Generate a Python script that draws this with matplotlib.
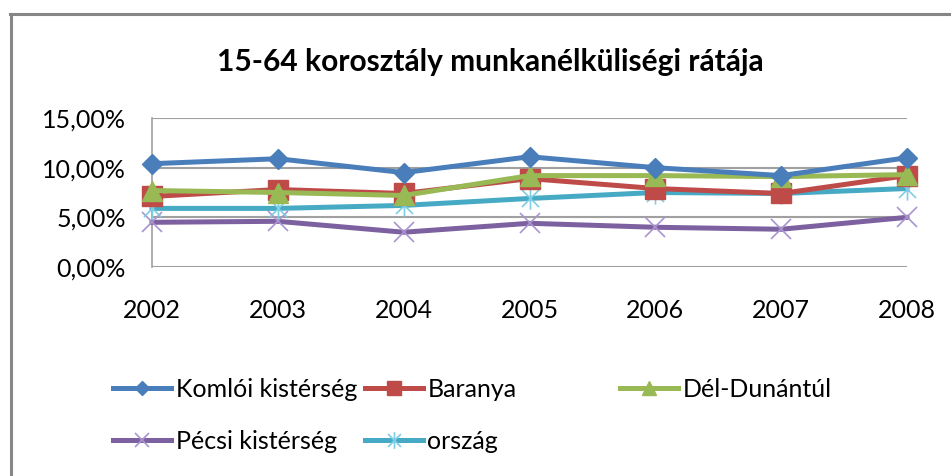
import matplotlib
matplotlib.use("Agg")
import matplotlib.pyplot as plt
from matplotlib.path import Path
from matplotlib.lines import Line2D
from matplotlib.ticker import FuncFormatter

plt.rcParams['font.family'] = ['Lato', 'DejaVu Sans']

# Adatok (munkanélküliségi ráta, %)
years = ['2002', '2003', '2004', '2005', '2006', '2007', '2008']
komloi = [10.4, 10.9, 9.5, 11.1, 10.0, 9.2, 11.0]
baranya = [7.1, 7.8, 7.4, 8.9, 7.9, 7.4, 9.2]
del_dunantul = [7.7, 7.5, 7.2, 9.2, 9.2, 9.1, 9.3]
pecsi = [4.5, 4.6, 3.5, 4.4, 4.0, 3.8, 5.0]
orszag = [5.9, 5.9, 6.2, 6.9, 7.5, 7.4, 7.9]

# csillag jelölő (x + függőleges vonal)
star_path = Path([(-1, -1), (1, 1), (-1, 1), (1, -1), (0, -1.3), (0, 1.3)],
                 [Path.MOVETO, Path.LINETO, Path.MOVETO, Path.LINETO, Path.MOVETO, Path.LINETO])

fig = plt.figure(figsize=(9.51, 4.76), dpi=100)
ax = fig.add_axes([152 / 951, 1 - 267 / 476, (907 - 152) / 951, (267 - 118) / 476])

x = list(range(len(years)))
lw = 3.6
l_komloi, = ax.plot(x, [v / 100 for v in komloi], color='#4A7EBB', lw=lw, marker='D', ms=10,
                    label='Komlói kistérség', clip_on=False, zorder=5)
l_baranya, = ax.plot(x, [v / 100 for v in baranya], color='#BE4B48', lw=lw, marker='s', ms=14,
                     label='Baranya', clip_on=False, zorder=4)
l_del, = ax.plot(x, [v / 100 for v in del_dunantul], color='#98B954', lw=lw, marker='^', ms=14,
                 label='Dél-Dunántúl', clip_on=False, zorder=4.5)
l_pecsi, = ax.plot(x, [v / 100 for v in pecsi], color='#7D60A0', lw=lw, marker='x', ms=14,
                   mec='#A994CF', mew=1.2, label='Pécsi kistérség', clip_on=False, zorder=3)
l_orszag, = ax.plot(x, [v / 100 for v in orszag], color='#46AAC5', lw=lw, marker=star_path, ms=16,
                    mec='#7FCDE2', mfc='none', mew=1.2, label='ország', clip_on=False, zorder=3.5)

ax.set_xlim(0, len(years) - 1)
ax.set_ylim(0, 0.15)
ax.set_yticks([0, 0.05, 0.10, 0.15])
ax.yaxis.set_major_formatter(FuncFormatter(lambda v, p: f"{v * 100:.2f}%".replace('.', ',')))
ax.set_xticks(x)
ax.set_xticklabels(years)
ax.tick_params(axis='y', length=0, pad=19, labelsize=18)
ax.tick_params(axis='x', length=0, pad=23, labelsize=18)
ax.grid(axis='y', color='#A0A0A0', lw=1.5)
ax.set_axisbelow(True)
for s in ['top', 'right', 'bottom']:
    ax.spines[s].set_visible(False)
ax.spines['left'].set_color('#A0A0A0')
ax.spines['left'].set_linewidth(1.2)

fig.text(490 / 951, 1 - 62 / 476, '15-64 korosztály munkanélküliségi rátája',
         ha='center', va='center', fontsize=21.5, fontweight='bold')

# jelmagyarázat: három oszlop külön
leg_kw = dict(loc='upper left', frameon=False, fontsize=18, handlelength=2.3, markerscale=0.75,
              handletextpad=0.2, labelspacing=1.15, borderpad=0, borderaxespad=0)
fig.legend([l_komloi, l_pecsi], ['Komlói kistérség', 'Pécsi kistérség'],
           bbox_to_anchor=(113 / 951, 1 - 378 / 476), **leg_kw)
fig.legend([l_baranya, l_orszag], ['Baranya', 'ország'],
           bbox_to_anchor=(365 / 951, 1 - 378 / 476), **leg_kw)
fig.legend([l_del], ['Dél-Dunántúl'],
           bbox_to_anchor=(620 / 951, 1 - 378 / 476), **leg_kw)

# külső keret (felső és bal oldali vonal)
fig.add_artist(Line2D([10 / 951, 1], [1 - 14 / 476, 1 - 14 / 476], color='#868686', lw=2.2))
fig.add_artist(Line2D([11 / 951, 11 / 951], [0, 1 - 14 / 476], color='#868686', lw=2.2))

fig.savefig('out.png', dpi=100)
